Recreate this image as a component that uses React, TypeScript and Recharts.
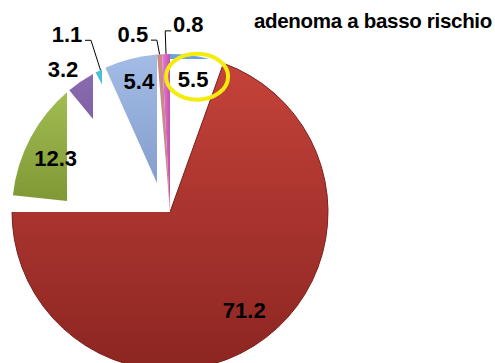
import { PieChart, Pie, Cell } from "recharts";

// slices, clockwise from 12 o'clock
const names = ["basso rischio", "altro", "verde", "viola", "azzurro", "celeste", "marrone", "rosa"];
const values = [5.5, 71.2, 12.3, 3.2, 1.1, 5.4, 0.5, 0.8];
const TITLE = "adenoma a basso rischio";

const FILLS = [
  "url(#gBlue)",
  "url(#gRed)",
  "url(#gGreen)",
  "url(#gPurple)",
  "url(#gCyan)",
  "url(#gSky)",
  "#c98a86",
  "url(#gPink)",
];

// layout
const W = 495;
const H = 363;
const CX = 170;
const CY = 212;
const R = 158;
const RAD = Math.PI / 180;

// label placement: radius factor, angle shift (deg, clockwise), leader line
const LABEL_POS = [
  { r: 0.85, shift: 0, leader: false },
  { r: 0.78, shift: -5, leader: false },
  { r: 0.8, shift: -3, leader: false },
  { r: 1.13, shift: -3, leader: false },
  { r: 1.3, shift: -4, leader: true },
  { r: 0.85, shift: 1, leader: false },
  { r: 1.15, shift: -8, leader: true },
  { r: 1.19, shift: 7, leader: true },
];

// wipe-style cut outs (decoration of the original slide)
const CLIPS = [
  "clipBlue",
  "clipRed",
  "clipGreen",
  "clipPurple",
  "clipCyan",
  "clipSky",
  "",
  "",
];

const data = names.map((name, i) => ({ name, value: values[i] }));

function renderLabel(props: any) {
  const { cx, cy, midAngle, outerRadius, index, value } = props;
  const cfg = LABEL_POS[index];
  const a = -(midAngle - cfg.shift) * RAD;
  const x = cx + outerRadius * cfg.r * Math.cos(a);
  const y = cy + outerRadius * cfg.r * Math.sin(a);
  const text = (
    <text
      x={x}
      y={y}
      textAnchor="middle"
      dominantBaseline="central"
      fontSize={22}
      fontWeight="bold"
      fontFamily="'Liberation Sans', Arial, sans-serif"
      fill="#000"
    >
      {value}
    </text>
  );
  let leader = null;
  if (cfg.leader) {
    const pa = -midAngle * RAD;
    const px = cx + outerRadius * Math.cos(pa);
    const py = cy + outerRadius * Math.sin(pa);
    const right = px > x;
    const sx = right ? x + 18 : x - 17;
    const ly = y + 6;
    const ex = right ? sx + 6 : sx - 6;
    leader = (
      <polyline
        points={`${sx},${ly} ${ex},${ly} ${px},${py}`}
        fill="none"
        stroke="#000"
        strokeWidth={1}
      />
    );
  }
  return (
    <g key={`lab-${index}`}>
      {leader}
      {text}
      {index === 0 && (
        <ellipse
          cx={x + 4}
          cy={y - 3}
          rx={31}
          ry={23}
          fill="none"
          stroke="#f4ec0c"
          strokeWidth={4}
        />
      )}
    </g>
  );
}

export default function App() {
  return (
    <div
      style={{
        position: "absolute",
        left: 0,
        top: 0,
        width: W,
        height: H,
        overflow: "hidden",
        background: "#fff",
      }}
    >
      <svg width={0} height={0} style={{ position: "absolute" }}>
        <defs>
          <linearGradient id="gRed" x1="0" y1="0" x2="0" y2="1">
            <stop offset="0%" stopColor="#c4433a" />
            <stop offset="100%" stopColor="#8c2521" />
          </linearGradient>
          <linearGradient id="gGreen" x1="0" y1="0" x2="0" y2="1">
            <stop offset="0%" stopColor="#a2bd52" />
            <stop offset="100%" stopColor="#7b9632" />
          </linearGradient>
          <linearGradient id="gPurple" x1="0" y1="0" x2="0" y2="1">
            <stop offset="0%" stopColor="#8a6bb0" />
            <stop offset="100%" stopColor="#6a4d8e" />
          </linearGradient>
          <linearGradient id="gCyan" x1="0" y1="0" x2="0" y2="1">
            <stop offset="0%" stopColor="#4cc1d8" />
            <stop offset="100%" stopColor="#2a9ab3" />
          </linearGradient>
          <linearGradient id="gSky" x1="0" y1="0" x2="0" y2="1">
            <stop offset="0%" stopColor="#a3bce6" />
            <stop offset="100%" stopColor="#7d97c8" />
          </linearGradient>
          <linearGradient id="gBlue" x1="0" y1="0" x2="0" y2="1">
            <stop offset="0%" stopColor="#6e9fe0" />
            <stop offset="100%" stopColor="#4a7cc8" />
          </linearGradient>
          <linearGradient id="gPink" x1="0" y1="0" x2="1" y2="0">
            <stop offset="0%" stopColor="#e77fd6" />
            <stop offset="100%" stopColor="#c34fb0" />
          </linearGradient>
          <clipPath id="clipBlue">
            <rect x={0} y={0} width={W} height={CY - R + 5} />
          </clipPath>
          <clipPath id="clipRed">
            <rect x={CX} y={0} width={W} height={H + 100} />
            <rect x={0} y={CY} width={W} height={H} />
          </clipPath>
          <clipPath id="clipGreen">
            <rect x={0} y={0} width={CX - 103} height={H} />
          </clipPath>
          <clipPath id="clipPurple">
            <rect x={0} y={0} width={CX - 77} height={H} />
          </clipPath>
          <clipPath id="clipCyan">
            <rect x={0} y={0} width={CX - 68} height={H} />
          </clipPath>
          <clipPath id="clipSky">
            <rect x={0} y={0} width={CX - 13} height={H} />
          </clipPath>
        </defs>
      </svg>
      <PieChart width={W} height={H + 60} margin={{ top: 0, right: 0, bottom: 0, left: 0 }}>
        <Pie
          data={data}
          dataKey="value"
          nameKey="name"
          cx={CX}
          cy={CY}
          outerRadius={R}
          startAngle={90}
          endAngle={-270}
          stroke="none"
          labelLine={false}
          label={renderLabel}
          isAnimationActive={false}
        >
          {data.map((entry, i) => (
            <Cell
              key={`cell-${i}`}
              fill={FILLS[i]}
              stroke={i === 1 ? "#7a201c" : "none"}
              strokeWidth={i === 1 ? 1 : 0}
              clipPath={CLIPS[i] ? `url(#${CLIPS[i]})` : undefined}
            />
          ))}
        </Pie>
        <text
          x={492}
          y={28}
          textAnchor="end"
          fontSize={20.5}
          fontWeight="bold"
          fontFamily="'Liberation Sans', Arial, sans-serif"
          letterSpacing={-0.3}
          fill="#000"
        >
          {TITLE}
        </text>
      </PieChart>
    </div>
  );
}
